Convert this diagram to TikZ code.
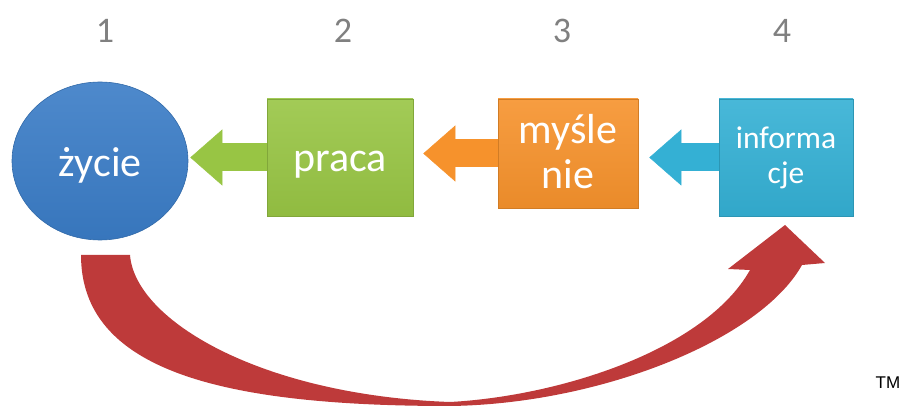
\documentclass[tikz,border=0pt]{standalone}
\usepackage{fontspec}
\setmainfont{Carlito}
\newfontfamily\tmfont{Liberation Sans}
\usetikzlibrary{shapes.geometric,arrows.meta}

\definecolor{zyciecol}{RGB}{58,124,198}
\definecolor{pracacol}{RGB}{152,197,68}
\definecolor{myslcol}{RGB}{246,146,44}
\definecolor{infocol}{RGB}{52,176,212}
\definecolor{loopcol}{RGB}{190,58,58}
\definecolor{numcol}{RGB}{128,128,128}

\tikzset{every picture/.style={line width=0.75pt}}
\tikzset{
  stage/.style={draw=#1!85!black, line width=0.6pt, top color=#1!90!white, bottom color=#1!95!black, text=white, inner sep=0pt, align=center},
  num/.style={text=numcol, font=\fontsize{36}{40}\selectfont},
  blockarrow/.style={line width=28pt, -{Triangle[length=32pt,width=56pt,line width=0.5pt]}},
}

\begin{document}
\begin{tikzpicture}[x=1pt,y=1pt,yscale=-1,xscale=1]
\useasboundingbox (0,0) rectangle (903,406);

% Numbers
\draw (105,31) node [num] (n1) {1};
\draw (343,31) node [num] (n2) {2};
\draw (562,31) node [num] (n3) {3};
\draw (782,31) node [num] (n4) {4};

%Shape: Ellipse
\draw (100,161) node [stage=zyciecol, ellipse, minimum width=176pt, minimum height=158pt, text height=33pt, text depth=1pt, font=\fontsize{42}{45}\selectfont] (zycie) {życie};
%Shape: Rectangles
\draw (340,157.5) node [stage=pracacol, minimum width=146pt, minimum height=117pt, text height=30pt, text depth=1pt, font=\fontsize{42}{45}\selectfont] (praca) {praca};
\draw (568,153.5) node [stage=myslcol, minimum width=140pt, minimum height=109pt, text depth=5pt, font=\fontsize{42}{45}\selectfont] (mysl) {myśle\\nie};
\draw (786,157.5) node [stage=infocol, minimum width=134pt, minimum height=117pt, font=\fontsize{31.5}{35}\selectfont] (info) {informa\\cje};

%Block Arrows
\draw [blockarrow, pracacol] (praca.west) -- ([xshift=2pt]praca.west -| zycie.east);
\draw [blockarrow, myslcol] (mysl.west) -- ([xshift=10pt]mysl.west -| praca.east);
\draw [blockarrow, infocol] (info.west) -- ([xshift=11pt]info.west -| mysl.east);

%Curved Arrow
\coordinate (loopstart) at (81,255);
\coordinate (looptip) at (785,225);
\fill [loopcol] (loopstart) -- (130,255) .. controls (135,320) and (260,395) .. (450,402) .. controls (560,396) and (705,350) .. (750,270) -- (728,269) -- (looptip) -- (825,263) -- (802,265) .. controls (760,340) and (600,404) .. (450,406) .. controls (220,406) and (81,370) .. (loopstart) -- cycle ;

% Text Node
\draw (888,383) node [font=\tmfont\fontsize{17}{20}\selectfont] (tm) {TM};

\end{tikzpicture}
\end{document}
